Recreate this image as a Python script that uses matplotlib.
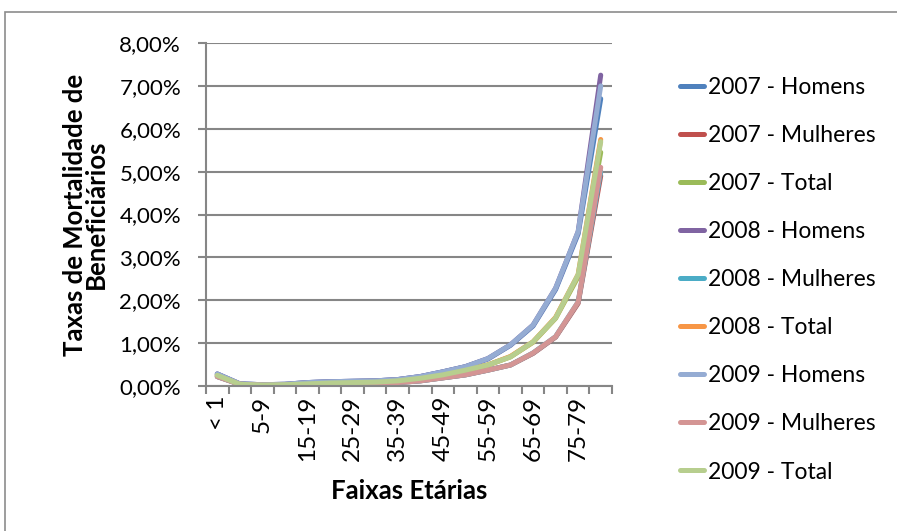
import matplotlib
matplotlib.use("Agg")
import matplotlib.pyplot as plt
from matplotlib.patches import Rectangle

plt.rcParams['font.family'] = ['Lato', 'DejaVu Sans']

# age groups (x axis)
faixas = ['< 1', '1-4', '5-9', '10-14', '15-19', '20-24', '25-29', '30-34', '35-39',
          '40-44', '45-49', '50-54', '55-59', '60-64', '65-69', '70-74', '75-79', '80+']

# mortality rates in %
h2007 = [0.28, 0.05, 0.03, 0.04, 0.08, 0.10, 0.11, 0.12, 0.15, 0.22, 0.33, 0.45, 0.63, 0.95, 1.40, 2.25, 3.55, 6.70]
m2007 = [0.22, 0.04, 0.02, 0.02, 0.03, 0.04, 0.05, 0.06, 0.08, 0.12, 0.19, 0.26, 0.37, 0.49, 0.76, 1.14, 1.93, 4.90]
t2007 = [0.25, 0.04, 0.02, 0.03, 0.05, 0.07, 0.08, 0.09, 0.12, 0.18, 0.26, 0.37, 0.49, 0.68, 1.02, 1.58, 2.55, 5.45]
h2008 = [0.28, 0.05, 0.03, 0.04, 0.08, 0.10, 0.11, 0.12, 0.15, 0.22, 0.33, 0.45, 0.64, 0.96, 1.42, 2.28, 3.60, 7.25]
m2008 = [0.22, 0.04, 0.02, 0.02, 0.03, 0.04, 0.05, 0.06, 0.08, 0.12, 0.19, 0.26, 0.37, 0.49, 0.77, 1.15, 1.96, 5.00]
t2008 = [0.25, 0.04, 0.02, 0.03, 0.05, 0.07, 0.08, 0.09, 0.12, 0.18, 0.26, 0.37, 0.49, 0.69, 1.03, 1.60, 2.60, 5.75]
h2009 = [0.28, 0.05, 0.03, 0.04, 0.08, 0.10, 0.11, 0.12, 0.15, 0.22, 0.33, 0.45, 0.64, 0.96, 1.42, 2.28, 3.60, 7.00]
m2009 = [0.22, 0.04, 0.02, 0.02, 0.03, 0.04, 0.05, 0.06, 0.08, 0.12, 0.19, 0.26, 0.37, 0.49, 0.77, 1.15, 1.96, 5.10]
t2009 = [0.25, 0.04, 0.02, 0.03, 0.05, 0.07, 0.08, 0.09, 0.12, 0.18, 0.26, 0.37, 0.49, 0.68, 1.03, 1.59, 2.60, 5.70]

series = [
    ('2007 - Homens', h2007, '#4F81BD'),
    ('2007 - Mulheres', m2007, '#C0504D'),
    ('2007 - Total', t2007, '#9BBB59'),
    ('2008 - Homens', h2008, '#8064A2'),
    ('2008 - Mulheres', m2008, '#4BACC6'),
    ('2008 - Total', t2008, '#F79646'),
    ('2009 - Homens', h2009, '#95ACD3'),
    ('2009 - Mulheres', m2009, '#D49594'),
    ('2009 - Total', t2009, '#B7CE8E'),
]

fig = plt.figure(figsize=(8.97, 5.31), dpi=100)
ax = fig.add_axes([206 / 897, 1 - 386 / 531, (612 - 206) / 897, (386 - 43) / 531])

# outer chart border (cut off on the right and bottom)
fig.patches.append(Rectangle((5 / 897, -0.1), 1.2, 1 - 12 / 531 + 0.1,
                             transform=fig.transFigure, fill=False,
                             edgecolor='#8C8C8C', linewidth=1.2))

x = list(range(len(faixas)))
for label, vals, col in series:
    ax.plot(x, [v / 100 for v in vals], color=col, linewidth=3.6, label=label,
            solid_capstyle='round', solid_joinstyle='round')

ax.set_xlim(-0.5, len(faixas) - 0.5)
ax.set_ylim(0, 0.08)
yt = [i / 100 for i in range(9)]
ax.set_yticks(yt)
ax.set_yticklabels(['%d,00%%' % i for i in range(9)], fontsize=16)
ax.yaxis.grid(True, color='#868686', linewidth=1.5)
ax.set_axisbelow(True)

ax.set_xticks(x[::2])
ax.set_xticklabels(faixas[::2], rotation=90, fontsize=17.5)
ax.set_xticks([i - 0.5 for i in range(len(faixas) + 1)], minor=True)
ax.tick_params(axis='x', which='major', length=0, pad=7)
ax.tick_params(axis='x', which='minor', length=6, color='#868686', width=1.5)
ax.tick_params(axis='y', length=6, color='#868686', width=1.5, pad=12)

for s in ['top', 'right']:
    ax.spines[s].set_visible(False)
for s in ['left', 'bottom']:
    ax.spines[s].set_color('#868686')
    ax.spines[s].set_linewidth(1.5)

ax.set_xlabel('Faixas Etárias', fontsize=18.5, fontweight='bold', labelpad=13)
ax.set_ylabel('Taxas de Mortalidade de\nBeneficiários', fontsize=18.5,
              fontweight='bold', labelpad=8, linespacing=0.85)

fig.legend(loc='upper left', bbox_to_anchor=(671 / 897, 1 - 68 / 531),
           frameon=False, fontsize=16.5, handlelength=1.05, handletextpad=0.15,
           labelspacing=1.18, borderaxespad=0)

fig.savefig('out.png', dpi=100)
